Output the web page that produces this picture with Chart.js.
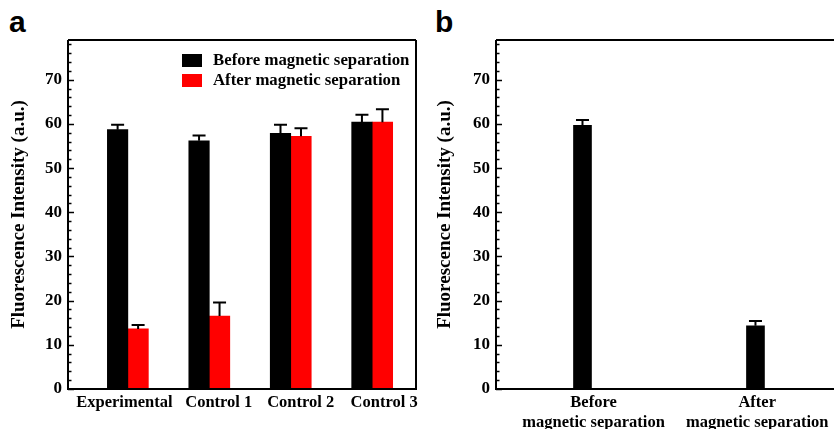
<!DOCTYPE html>
<html>
<head>
<meta charset="utf-8">
<script src="https://cdn.jsdelivr.net/npm/chart.js@4.4.1/dist/chart.umd.min.js"></script>
<style>
  html, body { margin:0; padding:0; background:#fff; width:834px; height:429px; overflow:hidden; }
  .wrap { position:absolute; top:0; height:429px; }
  #wa { left:0; width:430px; }
  #wb { left:428px; width:406px; }
  .panel { position:absolute; font-family:'Liberation Sans', Arial, sans-serif; font-weight:bold; font-size:30px; line-height:30px; color:#000; top:7px; }
</style>
</head>
<body>
<div class="panel" style="left:9px;">a</div>
<div class="panel" style="left:435px;">b</div>
<div class="wrap" id="wa"><canvas id="ca" width="430" height="429"></canvas></div>
<div class="wrap" id="wb"><canvas id="cb" width="406" height="429"></canvas></div>
<script>
// ---- Data ----
const categoriesA = ['Experimental', 'Control 1', 'Control 2', 'Control 3'];
const beforeValues = [58.7, 56.2, 57.9, 60.4];
const beforeErrors = [1.1, 1.2, 1.9, 1.7];
const afterValues = [13.6, 16.5, 57.2, 60.4];
const afterErrors = [0.9, 3.1, 1.8, 2.9];
const seriesNames = ['Before magnetic separation', 'After magnetic separation'];

const categoriesB = [['Before', 'magnetic separation'], ['After', 'magnetic separation']];
const valuesB = [59.7, 14.3];
const errorsB = [1.2, 1.1];

const yTicks = [0, 10, 20, 30, 40, 50, 60, 70];
const yMax = 79;

// layout: small horizontal shifts of the category labels (in axis units)
const labelShiftA = [-0.043, 0.116, 0.122, 0.147];
const labelShiftB = [0.064, 0.01];

const FONT = "'Liberation Serif', 'Times New Roman', serif";
Chart.defaults.font.family = FONT;
Chart.defaults.color = '#000';

const toXY = (vals) => vals.map((v, i) => ({ x: i + 1, y: v }));

const errorBarPlugin = {
  id: 'errBars',
  afterDatasetsDraw(chart) {
    const ctx = chart.ctx;
    const ys = chart.scales.y;
    ctx.save();
    ctx.strokeStyle = '#000';
    ctx.lineWidth = 2;
    chart.data.datasets.forEach((ds, di) => {
      const meta = chart.getDatasetMeta(di);
      if (!ds.errors) return;
      meta.data.forEach((el, i) => {
        const v = ds.data[i].y;
        const e = ds.errors[i];
        const yTop = ys.getPixelForValue(v + e);
        const yBar = el.y;
        ctx.beginPath();
        ctx.moveTo(el.x, yBar);
        ctx.lineTo(el.x, yTop);
        ctx.moveTo(el.x - 6.5, yTop);
        ctx.lineTo(el.x + 6.5, yTop);
        ctx.stroke();
      });
    });
    ctx.restore();
  }
};

const frameTicksPlugin = {
  id: 'frameTicks',
  afterDraw(chart, args, opts) {
    const ctx = chart.ctx;
    const a = chart.chartArea;
    const ys = chart.scales.y;
    ctx.save();
    ctx.strokeStyle = '#000';
    ctx.lineWidth = 1.5;
    for (let v = 0; v <= ys.max; v += 2) {
      const y = Math.round(ys.getPixelForValue(v)) + 0.5;
      const len = (v % 10 === 0) ? 6 : 3.5;
      ctx.beginPath();
      ctx.moveTo(a.left, y);
      ctx.lineTo(a.left + len, y);
      ctx.stroke();
    }
    ctx.lineWidth = 2;
    ctx.beginPath();
    ctx.moveTo(a.left, a.top);
    ctx.lineTo(a.left, a.bottom);
    ctx.lineTo(a.right, a.bottom);
    if (opts.right) ctx.lineTo(a.right, a.top);
    ctx.moveTo(a.right, a.top);
    ctx.lineTo(a.left, a.top);
    ctx.stroke();
    ctx.restore();
  }
};

const legendPlugin = {
  id: 'innerLegend',
  afterDraw(chart, args, opts) {
    if (!opts.show) return;
    const ctx = chart.ctx;
    const a = chart.chartArea;
    ctx.save();
    ctx.font = 'bold 16.8px ' + FONT;
    ctx.textBaseline = 'middle';
    chart.data.datasets.forEach((ds, i) => {
      const bx = a.left + 114;
      const by = a.top + 14 + i * 20;
      ctx.fillStyle = ds.backgroundColor;
      ctx.fillRect(bx, by, 20, 13);
      ctx.fillStyle = '#000';
      ctx.fillText(ds.label, bx + 31, by + 7);
    });
    ctx.restore();
  }
};

function yScale(titlePad) {
  return {
    type: 'linear', min: 0, max: yMax,
    afterBuildTicks: (s) => { s.ticks = yTicks.map(v => ({ value: v })); },
    afterFit: (s) => { s.width = 68; },
    grid: { display: false, drawTicks: false },
    border: { display: false },
    ticks: { font: { size: 17, weight: 'bold' }, padding: 6, color: '#000' },
    title: { display: true, text: 'Fluorescence Intensity (a.u.)', font: { size: 19, weight: 'bold' }, padding: { top: titlePad, bottom: 0 }, color: '#000' }
  };
}

function xScale(min, max, cats, shifts) {
  return {
    type: 'linear', min: min, max: max, offset: false,
    afterBuildTicks: (s) => { s.ticks = cats.map((c, i) => ({ value: i + 1 + shifts[i] })); },
    afterFit: (s) => { s.height = 40; },
    grid: { display: false, drawTicks: false },
    border: { display: false },
    ticks: { font: { size: 16.5, weight: 'bold' }, padding: 4, color: '#000', maxRotation: 0, autoSkip: false,
      callback: (v) => cats[Math.round(v) - 1] }
  };
}

new Chart(document.getElementById('ca'), {
  type: 'bar',
  data: {
    datasets: [
      { label: seriesNames[0], data: toXY(beforeValues), errors: beforeErrors, backgroundColor: '#000000', barThickness: 20.5 },
      { label: seriesNames[1], data: toXY(afterValues), errors: afterErrors, backgroundColor: '#ff0000', barThickness: 20.5 }
    ]
  },
  options: {
    responsive: false, animation: false,
    layout: { padding: { left: 0, top: 40, right: 14, bottom: 0 } },
    plugins: { legend: { display: false }, tooltip: { enabled: false }, frameTicks: { right: true }, innerLegend: { show: true } },
    scales: {
      x: xScale(0.265, 4.538, categoriesA, labelShiftA),
      y: yScale(7.5)
    }
  },
  plugins: [errorBarPlugin, frameTicksPlugin, legendPlugin]
});

new Chart(document.getElementById('cb'), {
  type: 'bar',
  data: {
    datasets: [
      { label: 'B', data: toXY(valuesB), errors: errorsB, backgroundColor: '#000000', barThickness: 18 }
    ]
  },
  options: {
    responsive: false, animation: false,
    layout: { padding: { left: 0, top: 40, right: 0, bottom: 0 } },
    plugins: { legend: { display: false }, tooltip: { enabled: false }, frameTicks: { right: false }, innerLegend: { show: false } },
    scales: {
      x: xScale(0.5, 2.454, categoriesB, labelShiftB),
      y: yScale(5.5)
    }
  },
  plugins: [errorBarPlugin, frameTicksPlugin, legendPlugin]
});
</script>
</body>
</html>
